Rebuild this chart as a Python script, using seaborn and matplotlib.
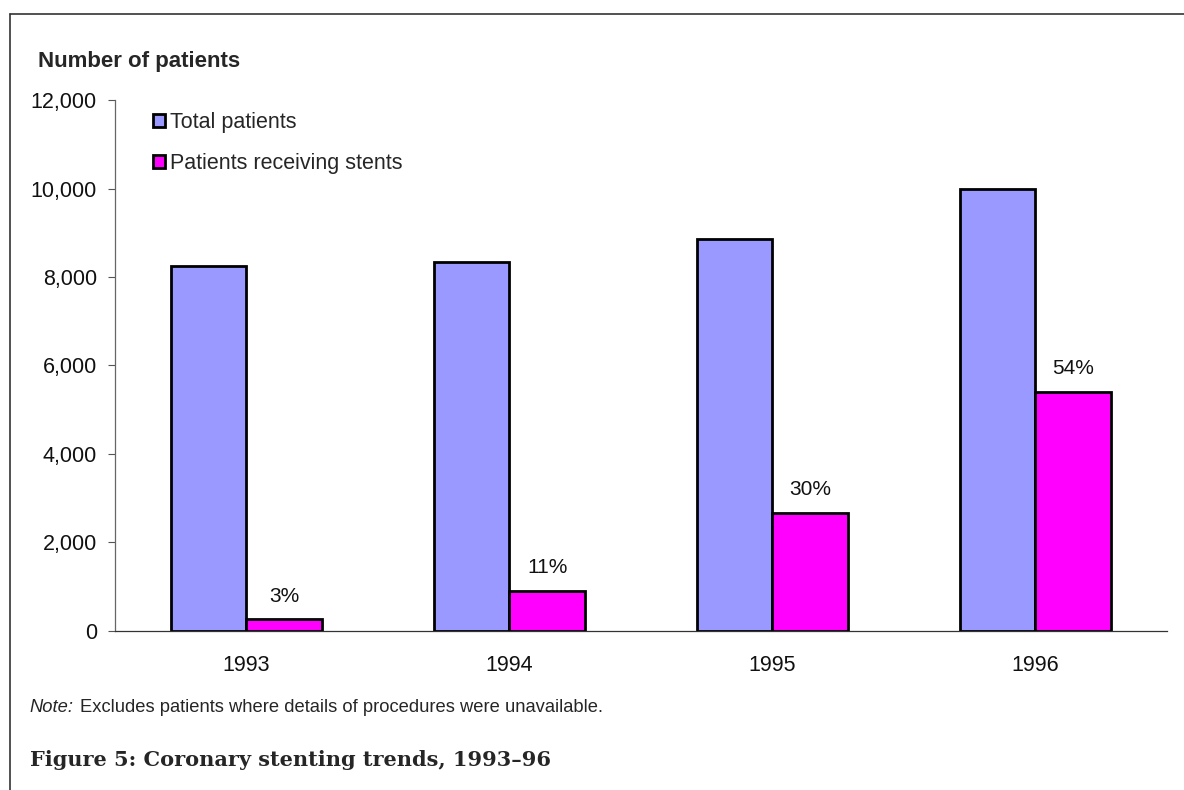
import matplotlib
matplotlib.use("Agg")
import matplotlib.pyplot as plt
from matplotlib.lines import Line2D
import seaborn as sns
import pandas as pd

# data
years = ["1993", "1994", "1995", "1996"]
total_patients = [8250, 8330, 8860, 10000]
stent_patients = [260, 910, 2660, 5400]
stent_pct = ["3%", "11%", "30%", "54%"]
series_names = ["Total patients", "Patients receiving stents"]
y_ticks = [0, 2000, 4000, 6000, 8000, 10000, 12000]

df = pd.DataFrame({
    "Year": years * 2,
    "Patients": total_patients + stent_patients,
    "Series": [series_names[0]] * len(years) + [series_names[1]] * len(years),
})

sns.set_theme(style="white")
plt.rcParams["font.family"] = ["Liberation Sans", "DejaVu Sans"]

fig = plt.figure(figsize=(11.84, 7.90), dpi=100)
ax = fig.add_axes([0.0971, 0.2013, 0.8885, 0.6721])

palette = {series_names[0]: "#9999FF", series_names[1]: "#FF00FF"}
sns.barplot(data=df, x="Year", y="Patients", hue="Series", palette=palette,
            width=0.575, edgecolor="black", linewidth=2.0, saturation=1,
            ax=ax, legend=True)

ax.set_ylim(0, 12000)
ax.set_xlim(-0.5, 3.5)
ax.set_yticks(y_ticks)
ax.set_yticklabels([f"{v:,}" for v in y_ticks])
ax.set_xlabel("")
ax.set_ylabel("")
ax.tick_params(axis="y", length=5, width=0.8, color="#555555", pad=8, labelsize=15.5,
               direction="out", left=True, labelcolor="#111111")
ax.tick_params(axis="x", length=0, pad=17, labelsize=15.5, labelcolor="#111111")
for s in ["top", "right"]:
    ax.spines[s].set_visible(False)
ax.spines["left"].set_color("#666666")
ax.spines["bottom"].set_color("#333333")
ax.spines["left"].set_linewidth(0.9)
ax.spines["bottom"].set_linewidth(0.9)

# percentage labels above the stent bars
ax.bar_label(ax.containers[1], labels=stent_pct, padding=10, fontsize=15, color="#111111")

handles, labels = ax.get_legend_handles_labels()
ax.legend(handles, labels, loc="upper left", bbox_to_anchor=(0.018, 1.013),
          frameon=False, fontsize=15.5, handlelength=0.55, handleheight=0.55,
          handletextpad=0.25, labelspacing=0.92)

fig.text(0.032, 0.922, "Number of patients", fontsize=16, fontweight="bold", va="center")
fig.text(0.025, 0.104, "Note:", fontsize=13.2, style="italic", va="center")
fig.text(0.0675, 0.104, "Excludes patients where details of procedures were unavailable.",
         fontsize=13.2, va="center")
fig.text(0.025, 0.038, "Figure 5: Coronary stenting trends, 1993\u201396", fontsize=15,
         fontweight="bold", family=["DejaVu Serif"], va="center")

# outer frame (top and left edges)
fig.add_artist(Line2D([0.0085, 1.0], [0.982, 0.982], color="#333333", lw=1.2, transform=fig.transFigure))
fig.add_artist(Line2D([0.0085, 0.0085], [0.0, 0.982], color="#333333", lw=1.2, transform=fig.transFigure))

fig.savefig("out.png", dpi=100)
